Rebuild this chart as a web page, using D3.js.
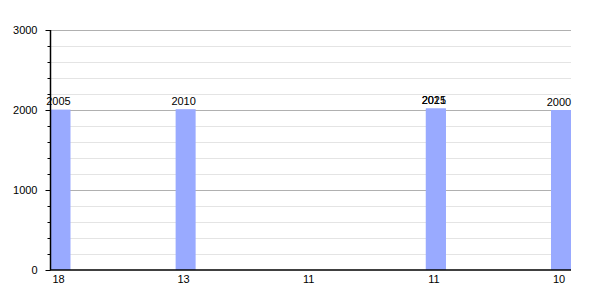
<!DOCTYPE html>
<html><head><meta charset="utf-8">
<script src="https://cdn.jsdelivr.net/npm/d3@7"></script>
<style>body{margin:0;background:#fff}svg{display:block;font-family:"Liberation Sans",Arial,sans-serif}</style>
</head><body><svg id="c" width="600" height="300"></svg>
<script>
const categories = ["18","13","11","11","10"];
const barPositions = [0, 1, 3, 3, 4];
const barValues = [2005, 2010, 2021, 2015, 2000];
const barLabels = ["2005", "2010", "2021", "2015", "2000"];
const yMajorTicks = [0, 1000, 2000, 3000];
const yMinorTicks = d3.range(0, 3001, 200);

(function () {
const svg = d3.select("#c");
const pLeft = 50.5, pRight = 571, pTop = 30, pBottom = 270, barW = 20;
const x = d3.scalePoint().domain(d3.range(categories.length)).range([pLeft + barW/2, pRight - barW/2]);
const y = d3.scaleLinear().domain([0, 3000]).range([pBottom, pTop]);

// minor gridlines
svg.append("g").selectAll("line").data(yMinorTicks.filter(v => v % 1000 !== 0)).join("line")
  .attr("x1", pLeft).attr("x2", pRight)
  .attr("y1", d => Math.round(y(d)) + 0.5).attr("y2", d => Math.round(y(d)) + 0.5)
  .attr("stroke", "#e4e4e4").attr("stroke-width", 1);
// major gridlines
svg.append("g").selectAll("line").data(yMajorTicks.filter(v => v > 0)).join("line")
  .attr("x1", pLeft).attr("x2", pRight)
  .attr("y1", d => Math.round(y(d)) + 0.5).attr("y2", d => Math.round(y(d)) + 0.5)
  .attr("stroke", "#b0b0b0").attr("stroke-width", 1);

// bars
svg.append("g").selectAll("rect").data(barValues).join("rect")
  .attr("x", (d, i) => x(barPositions[i]) - barW/2)
  .attr("y", d => y(d))
  .attr("width", barW)
  .attr("height", d => pBottom - y(d))
  .attr("fill", "#99aaff");

// bar labels
svg.append("g").selectAll("text").data(barValues).join("text")
  .attr("x", (d, i) => x(barPositions[i]) - 2)
  .attr("y", d => y(d) - 4.5)
  .attr("text-anchor", "middle")
  .attr("font-size", 11)
  .attr("fill", "#000")
  .text((d, i) => barLabels[i]);

// y axis minor ticks
const yMinor = d3.axisLeft(y).tickValues(yMinorTicks.filter(v => v % 1000 !== 0)).tickSize(3).tickFormat("");
svg.append("g").attr("transform", `translate(${pLeft},0)`).call(yMinor)
  .call(g => g.select(".domain").remove())
  .call(g => g.selectAll("line").attr("stroke", "#000"));
// y axis major
const yAxis = d3.axisLeft(y).tickValues(yMajorTicks).tickSize(5).tickPadding(8).tickFormat(d3.format("d"));
svg.append("g").attr("transform", `translate(${pLeft},0)`).call(yAxis)
  .call(g => g.select(".domain").attr("d", `M0,${pTop}V${pBottom}`).attr("stroke", "#000").attr("stroke-width", 1.5))
  .call(g => g.selectAll("text").attr("font-size", 11).attr("fill", "#000").attr("font-family", null))
  .call(g => g.selectAll("line").attr("stroke", "#000"));

// x axis
const xAxis = d3.axisBottom(x).tickSize(0).tickPadding(5).tickFormat(i => categories[i]);
svg.append("g").attr("transform", `translate(0,${pBottom})`).call(xAxis)
  .call(g => g.select(".domain").attr("d", `M${pLeft - 0.5},0H${pRight}`).attr("stroke", "#000").attr("stroke-width", 1.5))
  .call(g => g.selectAll("text").attr("font-size", 11).attr("fill", "#000").attr("font-family", null).attr("dx", -2.5));
})();
</script></body></html>
